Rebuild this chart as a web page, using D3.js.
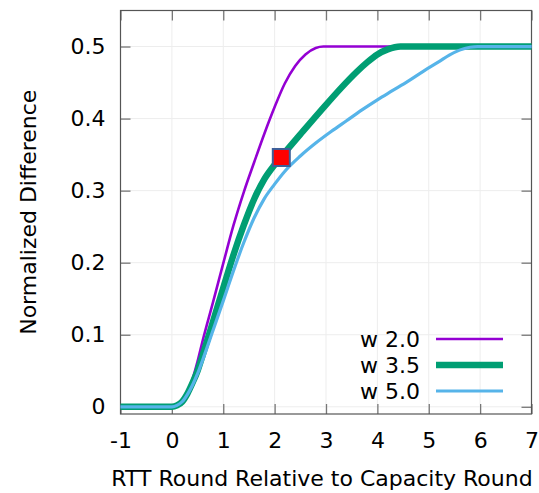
<!DOCTYPE html>
<html>
<head>
<meta charset="utf-8">
<script src="https://cdn.jsdelivr.net/npm/d3@7"></script>
<style>
  body { margin: 0; background: #fff; }
  text { font-family: "DejaVu Sans", sans-serif; fill: #000; }
</style>
</head>
<body>
<div class="chart"></div>
<script>
// values
const seriesNames = ["w 2.0", "w 3.5", "w 5.0"];

const w20x = [-1, 0, 0.1, 0.2, 0.3, 0.4, 0.5, 0.6, 0.8, 1.0, 1.2, 1.4, 1.6, 1.8, 2.0, 2.2, 2.4, 2.6, 2.8, 2.95, 7];
const w20y = [0, 0, 0.002, 0.008, 0.02, 0.038, 0.063, 0.092, 0.145, 0.199, 0.252, 0.298, 0.339, 0.379, 0.416, 0.449, 0.473, 0.489, 0.498, 0.5, 0.5];

const w35x = [-1, 0, 0.1, 0.2, 0.3, 0.4, 0.5, 0.6, 0.8, 1.0, 1.2, 1.4, 1.6, 1.8, 2.0, 2.2, 2.5, 2.9, 3.3, 3.6, 3.8, 4.0, 4.2, 4.45, 7];
const w35y = [0, 0, 0.002, 0.007, 0.018, 0.033, 0.05, 0.072, 0.118, 0.165, 0.211, 0.252, 0.288, 0.316, 0.336, 0.353, 0.378, 0.411, 0.443, 0.465, 0.478, 0.489, 0.496, 0.5, 0.5];

const w50x = [-1, 0, 0.1, 0.2, 0.3, 0.4, 0.5, 0.6, 0.8, 1.0, 1.2, 1.4, 1.6, 1.8, 2.0, 2.2, 2.5, 2.8, 3.1, 3.4, 3.7, 4.0, 4.3, 4.6, 4.9, 5.2, 5.4, 5.6, 5.8, 5.95, 7];
const w50y = [0, 0, 0.002, 0.007, 0.017, 0.03, 0.046, 0.065, 0.106, 0.147, 0.189, 0.228, 0.262, 0.289, 0.309, 0.327, 0.348, 0.366, 0.382, 0.397, 0.412, 0.426, 0.439, 0.452, 0.466, 0.479, 0.488, 0.495, 0.499, 0.5, 0.5];

const markerX = [2.13];
const markerY = [0.346];

const xTicks = [-1, 0, 1, 2, 3, 4, 5, 6, 7];
const yTicks = [0, 0.1, 0.2, 0.3, 0.4, 0.5];

let width = 539,
    height = 493,
    margin = {top: 10.5, right: 7.5, bottom: 79, left: 120.5},
    plotW = width - margin.left - margin.right,
    plotH = height - margin.top - margin.bottom;

let svg = d3.select(".chart")
  .append("svg")
  .attr("width", width)
  .attr("height", height);

let g = svg.append("g")
  .attr("transform", `translate(${margin.left},${margin.top})`);

let xScale = d3.scaleLinear().domain([-1, 7]).range([0, plotW]);
let yScale = d3.scaleLinear().domain([-0.01, 0.55]).range([plotH, 0]);

// grid
g.append("g").selectAll("line")
  .data(xTicks.slice(1, -1))
  .enter().append("line")
  .attr("x1", d => xScale(d)).attr("x2", d => xScale(d))
  .attr("y1", 0).attr("y2", plotH)
  .attr("stroke", "#ededed").attr("stroke-width", 1);
g.append("g").selectAll("line")
  .data(yTicks)
  .enter().append("line")
  .attr("x1", 0).attr("x2", plotW)
  .attr("y1", d => yScale(d)).attr("y2", d => yScale(d))
  .attr("stroke", "#ededed").attr("stroke-width", 1);

let yFmt = d => d === 0 ? "0" : d.toFixed(1);

// axes, ticks pointing inward
let xAxis = g.append("g")
  .attr("transform", `translate(0,${plotH})`)
  .call(d3.axisBottom(xScale).tickValues(xTicks).tickSize(-10).tickPadding(18).tickFormat(d => String(d)));
let yAxis = g.append("g")
  .call(d3.axisLeft(yScale).tickValues(yTicks).tickSize(-10).tickPadding(15).tickFormat(yFmt));
let topAxis = g.append("g")
  .call(d3.axisTop(xScale).tickValues(xTicks).tickSize(-10).tickFormat(""));
let rightAxis = g.append("g")
  .attr("transform", `translate(${plotW},0)`)
  .call(d3.axisRight(yScale).tickValues(yTicks).tickSize(-10).tickFormat(""));

[xAxis, yAxis, topAxis, rightAxis].forEach(a => {
  a.select(".domain").remove();
  a.selectAll(".tick line").attr("stroke", "#777").attr("stroke-width", 1.3);
  a.selectAll("text").style("font-size", "22px").style("font-family", "DejaVu Sans, sans-serif").attr("fill", "#000");
});

// frame
g.append("rect")
  .attr("x", 0).attr("y", 0)
  .attr("width", plotW).attr("height", plotH)
  .attr("fill", "none")
  .attr("stroke", "#555")
  .attr("stroke-width", 1.2);

// curves
let series = [
  {name: seriesNames[0], xs: w20x, ys: w20y, color: "#9400d3", w: 2.6},
  {name: seriesNames[1], xs: w35x, ys: w35y, color: "#009e73", w: 6.5},
  {name: seriesNames[2], xs: w50x, ys: w50y, color: "#56b4e9", w: 3.2}
];

let line = d3.line()
  .x(d => xScale(d[0]))
  .y(d => yScale(d[1]))
  .curve(d3.curveMonotoneX);

series.forEach(s => {
  g.append("path")
    .datum(s.xs.map((x, i) => [x, s.ys[i]]))
    .attr("fill", "none")
    .attr("stroke", s.color)
    .attr("stroke-width", s.w)
    .attr("stroke-linejoin", "round")
    .attr("d", line);
});

// red marker
g.selectAll(".marker")
  .data(markerX.map((x, i) => [x, markerY[i]]))
  .enter().append("rect")
  .attr("class", "marker")
  .attr("x", d => xScale(d[0]) - 8.5)
  .attr("y", d => yScale(d[1]) - 8.5)
  .attr("width", 17)
  .attr("height", 17)
  .attr("fill", "#ff0000")
  .attr("stroke", "#3d5f99")
  .attr("stroke-width", 2);

// legend
series.forEach((s, i) => {
  let ly = 339 + i * 26;
  svg.append("text")
    .attr("x", 420)
    .attr("y", ly)
    .attr("dy", "0.36em")
    .attr("text-anchor", "end")
    .style("font-size", "22px")
    .text(s.name);
  svg.append("line")
    .attr("x1", 436).attr("x2", 503)
    .attr("y1", ly).attr("y2", ly)
    .attr("stroke", s.color)
    .attr("stroke-width", s.w);
});

// axis titles
svg.append("text")
  .attr("x", margin.left + plotW / 2 - 4)
  .attr("y", 486)
  .attr("text-anchor", "middle")
  .style("font-size", "22px")
  .text("RTT Round Relative to Capacity Round");

svg.append("text")
  .attr("transform", `translate(28,${margin.top + plotH / 2})rotate(-90)`)
  .attr("text-anchor", "middle")
  .attr("dy", "0.36em")
  .style("font-size", "22px")
  .text("Normalized Difference");
</script>
</body>
</html>
